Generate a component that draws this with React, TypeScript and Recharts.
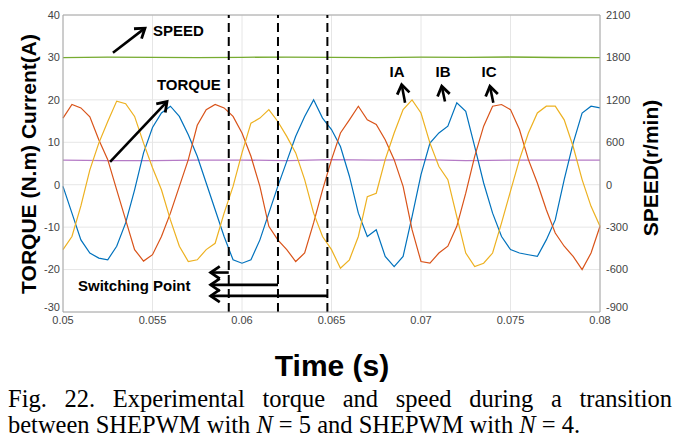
import { LineChart, Line, XAxis, YAxis, CartesianGrid, ReferenceLine, ReferenceDot } from "recharts";

// sample times (s), read every 0.5 ms
const time = [
  0.05, 0.0505, 0.051, 0.0515, 0.052, 0.0525, 0.053, 0.0535, 0.054, 0.0545,
  0.055, 0.0555, 0.056, 0.0565, 0.057, 0.0575, 0.058, 0.0585, 0.059, 0.0595,
  0.06, 0.0605, 0.061, 0.0615, 0.062, 0.0625, 0.063, 0.0635, 0.064, 0.0645,
  0.065, 0.0655, 0.066, 0.0665, 0.067, 0.0675, 0.068, 0.0685, 0.069, 0.0695,
  0.07, 0.0705, 0.071, 0.0715, 0.072, 0.0725, 0.073, 0.0735, 0.074, 0.0745,
  0.075, 0.0755, 0.076, 0.0765, 0.077, 0.0775, 0.078, 0.0785, 0.079, 0.0795,
  0.08,
];

// phase currents (A)
const ia = [
  -15.3, -12.2, -5.0, 3.5, 9.8, 14.9, 19.7, 19.1, 16.1, 9.8,
  4.0, -1.2, -8.3, -14.5, -18.1, -17.7, -15.3, -13.8, -6.7, -0.4,
  7.5, 14.5, 15.7, 17.7, 14.9, 11.4, 7.5, 1.2, -6.7, -12.2,
  -15.3, -19.7, -17.7, -12.2, -2.8, -2.0, 5.9, 12.2, 17.7, 20.0,
  16.9, 9.8, 4.3, 1.2, -7.5, -16.1, -19.3, -18.5, -16.1, -9.0,
  -1.5, 5.9, 12.2, 16.9, 18.5, 18.5, 15.3, 9.0, 1.2, -5.1,
  -9.8,
];
const ib = [
  -0.4, -6.7, -13.0, -16.1, -17.3, -17.7, -14.5, -9.0, -1.2, 7.5,
  13.5, 16.9, 18.5, 16.1, 11.8, 6.7, 0.4, -5.9, -12.2, -17.7,
  -18.5, -17.7, -13.0, -6.7, -0.4, 5.5, 11.4, 16.1, 20.0, 15.7,
  13.0, 9.0, 2.0, -6.7, -12.2, -10.6, -16.9, -19.3, -16.9, -7.5,
  2.4, 9.8, 12.2, 13.8, 19.3, 17.3, 9.0, 0.4, -6.7, -12.2,
  -15.3, -16.1, -16.5, -16.9, -13.0, -8.3, 1.2, 9.8, 16.9, 18.5,
  18.1,
];
const ic = [
  15.7, 18.9, 18.1, 16.0, 10.6, 5.9, -1.2, -8.3, -15.3, -18.0,
  -16.5, -12.2, -6.7, -0.4, 5.9, 14.0, 17.7, 18.9, 18.1, 16.1,
  12.2, 6.7, -0.4, -9.8, -13.0, -15.3, -18.1, -16.1, -9.0, -1.2,
  5.9, 12.2, 15.3, 18.5, 15.3, 14.2, 10.6, 5.9, -0.4, -10.6,
  -18.1, -18.5, -16.1, -14.5, -9.8, -2.0, 6.7, 13.8, 18.5, 18.9,
  17.7, 13.0, 5.9, 0.4, -5.9, -11.4, -14.5, -16.9, -20.0, -16.1,
  -9.8,
];

// torque (N.m) and speed (r/min), read every 2.5 ms
const slowTime = [0.05, 0.0525, 0.055, 0.0575, 0.06, 0.0625, 0.065, 0.0675, 0.07, 0.0725, 0.075, 0.0775, 0.08];
const torque = [5.8, 5.7, 5.7, 5.8, 5.8, 5.7, 5.9, 5.8, 5.9, 5.7, 5.8, 5.8, 5.8];
const speed = [1798, 1803, 1800, 1797, 1802, 1805, 1801, 1798, 1803, 1800, 1806, 1799, 1796];

const xTicks = [0.05, 0.055, 0.06, 0.065, 0.07, 0.075, 0.08];
const leftTicks = [-30, -20, -10, 0, 10, 20, 30, 40];
const speedTicks = [-1800, -1200, -600, 0, 600, 1200, 1800, 2400];
const speedTickLabels = ["-900", "-600", "-300", "0", "600", "1200", "1800", "2100"];

const switchTimes = [0.05926, 0.06201, 0.06477];

const currentData = time.map((t, i) => ({ t, ia: ia[i], ib: ib[i], ic: ic[i] }));
const slowData = slowTime.map((t, i) => ({ t, torque: torque[i], speed: speed[i] }));

const SANS = "'Liberation Sans', Arial, Helvetica, sans-serif";
const tickStyle = { fill: "#444", fontSize: 11, fontFamily: SANS };

// y tick label; the bottom one sits a little higher, clear of the x labels
const yTick = (fmt: (v: number) => string, low: number) => (p: any) => {
  const v = p.payload.value;
  return (
    <text
      x={p.x}
      y={p.y + (v === low ? -5 : 0)}
      dy="0.355em"
      textAnchor={p.textAnchor}
      fill="#444"
      fontSize={11}
      fontFamily={SANS}
    >
      {fmt(v)}
    </text>
  );
};

const Arrow = (p: any) => {
  const { x1, y1, x2, y2 } = p;
  const a = Math.atan2(y2 - y1, x2 - x1);
  const L = 11;
  const w = 0.6;
  const h1 = `${x2 - L * Math.cos(a - w)},${y2 - L * Math.sin(a - w)}`;
  const h2 = `${x2 - L * Math.cos(a + w)},${y2 - L * Math.sin(a + w)}`;
  return (
    <g>
      <line x1={x1} y1={y1} x2={x2} y2={y2} stroke="#000" strokeWidth={2.6} />
      <polyline points={`${h1} ${x2},${y2} ${h2}`} fill="none" stroke="#000" strokeWidth={2.8} />
    </g>
  );
};

const note = (text: string, anchor: "start" | "middle" = "start", size = 15) => (p: any) => (
  <text
    x={p.cx}
    y={p.cy}
    textAnchor={anchor}
    dominantBaseline="central"
    fontFamily={SANS}
    fontWeight="bold"
    fontSize={size}
    fill="#000"
  >
    {text}
  </text>
);

export default function App() {
  return (
    <div style={{ position: "absolute", left: 0, top: 0, width: 685, height: 440, background: "#fff", overflow: "hidden" }}>
      <LineChart width={685} height={335} data={currentData} margin={{ top: 15, right: 0, bottom: 0, left: 0 }}>
        <CartesianGrid stroke="#e6e6e6" />
        <XAxis
          dataKey="t"
          type="number"
          domain={[0.05, 0.08]}
          ticks={xTicks}
          tickFormatter={(v: number) => String(+v.toFixed(3))}
          tick={tickStyle}
          tickLine={false}
          tickSize={2}
          tickMargin={2}
          height={23}
          stroke="#a6a6a6"
        />
        <YAxis
          domain={[-30, 40]}
          ticks={leftTicks}
          tick={yTick((v) => String(v), -30)}
          tickLine={false}
          tickSize={2}
          tickMargin={1}
          width={63}
          stroke="#a6a6a6"
        />
        <YAxis
          yAxisId="right"
          orientation="right"
          domain={[-1800, 2400]}
          ticks={speedTicks}
          tick={yTick((v) => speedTickLabels[speedTicks.indexOf(v)], -1800)}
          tickLine={false}
          tickSize={2}
          tickMargin={4}
          width={85}
          stroke="#a6a6a6"
        />
        <ReferenceLine y={40} stroke="#a6a6a6" />

        <Line data={slowData} dataKey="speed" yAxisId="right" stroke="#77AC30" strokeWidth={1.3} dot={false} isAnimationActive={false} />
        <Line data={slowData} dataKey="torque" stroke="#B57BC6" strokeWidth={1.3} dot={false} isAnimationActive={false} />
        <Line dataKey="ib" stroke="#0072BD" strokeWidth={1.2} dot={false} isAnimationActive={false} />
        <Line dataKey="ic" stroke="#D95319" strokeWidth={1.2} dot={false} isAnimationActive={false} />
        <Line dataKey="ia" stroke="#EDB120" strokeWidth={1.2} dot={false} isAnimationActive={false} />

        {switchTimes.map((s) => (
          <ReferenceLine key={s} x={s} stroke="#000" strokeWidth={2} strokeDasharray="9 5" />
        ))}

        <ReferenceLine segment={[{ x: 0.05279, y: 31.1 }, { x: 0.05458, y: 36.9 }]} shape={Arrow} />
        <ReferenceLine segment={[{ x: 0.05263, y: 5.4 }, { x: 0.05581, y: 19.6 }]} shape={Arrow} />
        <ReferenceLine segment={[{ x: 0.06911, y: 19.3 }, { x: 0.06892, y: 23.6 }]} shape={Arrow} />
        <ReferenceLine segment={[{ x: 0.07134, y: 19.6 }, { x: 0.07116, y: 23.2 }]} shape={Arrow} />
        <ReferenceLine segment={[{ x: 0.07404, y: 19.3 }, { x: 0.07385, y: 23.2 }]} shape={Arrow} />
        <ReferenceLine segment={[{ x: switchTimes[0], y: -20.7 }, { x: 0.05825, y: -20.7 }]} shape={Arrow} />
        <ReferenceLine segment={[{ x: switchTimes[1], y: -23.6 }, { x: 0.05825, y: -23.6 }]} shape={Arrow} />
        <ReferenceLine segment={[{ x: switchTimes[2], y: -26.2 }, { x: 0.05825, y: -26.2 }]} shape={Arrow} />

        <ReferenceDot x={0.05503} y={36.3} shape={note("SPEED")} />
        <ReferenceDot x={0.05525} y={23.6} shape={note("TORQUE")} />
        <ReferenceDot x={0.06866} y={26.7} shape={note("IA", "middle")} />
        <ReferenceDot x={0.07123} y={26.7} shape={note("IB", "middle")} />
        <ReferenceDot x={0.0738} y={26.7} shape={note("IC", "middle")} />
        <ReferenceDot x={0.05084} y={-23.8} shape={note("Switching Point")} />
      </LineChart>

      <div
        style={{
          position: "absolute",
          left: 29,
          top: 164,
          transform: "translate(-50%, -50%) rotate(-90deg)",
          whiteSpace: "nowrap",
          fontFamily: SANS,
          fontWeight: "bold",
          fontSize: 21,
        }}
      >
        TORQUE (N.m) Current(A)
      </div>
      <div
        style={{
          position: "absolute",
          left: 651,
          top: 168,
          transform: "translate(-50%, -50%) rotate(-90deg)",
          whiteSpace: "nowrap",
          fontFamily: SANS,
          fontWeight: "bold",
          fontSize: 21,
        }}
      >
        SPEED(r/min)
      </div>
      <div
        style={{
          position: "absolute",
          left: 332,
          top: 366,
          transform: "translate(-50%, -50%)",
          whiteSpace: "nowrap",
          fontFamily: SANS,
          fontWeight: "bold",
          fontSize: 30,
        }}
      >
        Time (s)
      </div>

      <div
        style={{
          position: "absolute",
          left: 8,
          top: 386,
          width: 664,
          fontFamily: "'Liberation Serif', 'Times New Roman', serif",
          fontSize: 24.5,
          lineHeight: "26px",
          color: "#000",
        }}
      >
        <div style={{ textAlign: "justify", textAlignLast: "justify", whiteSpace: "nowrap" }}>
          Fig. 22. Experimental torque and speed during a transition
        </div>
        <div style={{ whiteSpace: "nowrap" }}>
          between SHEPWM with <i>N</i> = 5 and SHEPWM with <i>N</i> = 4.
        </div>
      </div>
    </div>
  );
}
